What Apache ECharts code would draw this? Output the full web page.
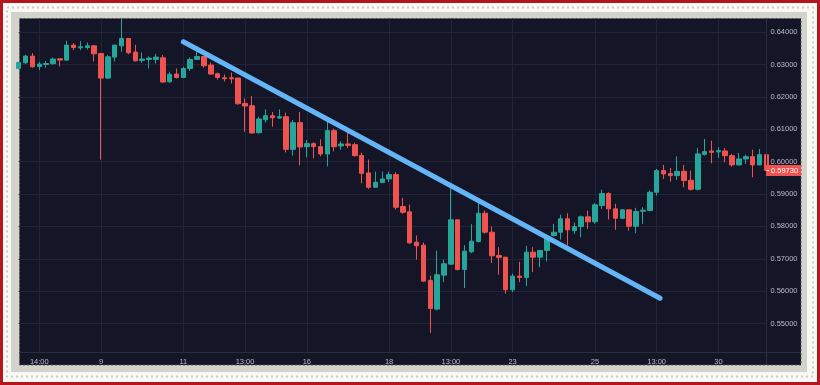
<!DOCTYPE html>
<html>
<head>
<meta charset="utf-8">
<script src="https://cdn.jsdelivr.net/npm/echarts@6/dist/echarts.min.js"></script>
<style>html,body{margin:0;padding:0;background:#fff}#c{width:820px;height:385px}</style>
</head>
<body>
<div id="c"></div>
<script>
// ---- data ----
const opens = [0.62883,0.63059,0.63265,0.62944,0.63006,0.63028,0.63182,0.63142,0.63605,0.63522,
0.63531,0.63583,0.63346,0.62586,0.63235,0.63583,0.63809,0.63389,0.63130,0.63161,
0.63161,0.63213,0.62472,0.62710,0.62605,0.62883,0.63161,0.63253,0.62988,0.62719,
0.62596,0.62596,0.62586,0.61803,0.61731,0.60898,0.61299,0.61423,0.61352,0.61392,
0.60383,0.61207,0.60466,0.60559,0.60466,0.60241,0.60960,0.60488,0.60549,0.60528,
0.60198,0.59654,0.59210,0.59355,0.59469,0.59602,0.58614,0.58451,0.57512,0.57420,
0.56330,0.55444,0.56494,0.56833,0.58204,0.56670,0.57216,0.57534,0.58407,0.57821,
0.57102,0.57049,0.56043,0.56463,0.56423,0.57204,0.57049,0.57256,0.57719,0.57821,
0.58235,0.57873,0.57997,0.58296,0.58142,0.58645,0.59015,0.58543,0.58253,0.58512,
0.58006,0.58469,0.58491,0.59056,0.59725,0.59633,0.59571,0.59704,0.59426,0.59148,
0.60228,0.60333,0.60302,0.60333,0.60188,0.59901,0.60086,0.60157,0.59901,0.60219];
const closes = [0.63068,0.63265,0.62935,0.63019,0.63037,0.63173,0.63142,0.63605,0.63531,0.63552,
0.63583,0.63336,0.62586,0.63244,0.63605,0.63809,0.63367,0.63120,0.63173,0.63204,
0.63235,0.62463,0.62704,0.62605,0.62883,0.63161,0.63253,0.62966,0.62710,0.62605,
0.62565,0.62565,0.61793,0.61722,0.60889,0.61321,0.61423,0.61361,0.61392,0.60383,
0.61207,0.60457,0.60559,0.60466,0.60241,0.60960,0.60466,0.60549,0.60506,0.60188,
0.59642,0.59210,0.59364,0.59469,0.59602,0.58593,0.58438,0.57494,0.57401,0.56309,
0.55466,0.56506,0.56846,0.58204,0.56670,0.57235,0.57543,0.58407,0.57821,0.57093,
0.57040,0.56043,0.56463,0.56423,0.57204,0.57049,0.57256,0.57667,0.57821,0.58235,
0.57895,0.57997,0.58296,0.58142,0.58667,0.59015,0.58543,0.58253,0.58512,0.58006,
0.58460,0.58500,0.59056,0.59725,0.59623,0.59571,0.59704,0.59417,0.59148,0.60241,
0.60312,0.60290,0.60343,0.60188,0.59901,0.60086,0.60157,0.59901,0.60219,0.59730];
const lows = [0.62858,0.63028,0.62914,0.62833,0.62904,0.63006,0.62944,0.63120,0.63451,0.63451,
0.63469,0.63099,0.60065,0.62556,0.63099,0.63398,0.63327,0.63099,0.63059,0.62883,
0.63037,0.62441,0.62441,0.62574,0.62596,0.62812,0.63151,0.62914,0.62688,0.62543,
0.62481,0.62420,0.61762,0.60929,0.60867,0.60867,0.61207,0.61083,0.61330,0.60290,
0.60188,0.59889,0.60136,0.60105,0.60167,0.59858,0.60321,0.60364,0.60426,0.60157,
0.59333,0.59161,0.59201,0.59340,0.59377,0.58522,0.58389,0.57451,0.56978,0.56284,
0.54704,0.55404,0.56278,0.56824,0.56639,0.56093,0.57173,0.57503,0.57772,0.56864,
0.56506,0.55920,0.55969,0.56278,0.56154,0.56586,0.56741,0.56917,0.57688,0.57596,
0.57411,0.57772,0.57667,0.57926,0.58080,0.58543,0.58213,0.57895,0.58228,0.57873,
0.57790,0.58080,0.58475,0.58954,0.59469,0.59386,0.59438,0.59210,0.59108,0.59108,
0.60188,0.59951,0.60117,0.59982,0.59849,0.59895,0.59932,0.59519,0.59895,0.59700];
const highs = [0.63090,0.63306,0.63358,0.63090,0.63111,0.63222,0.63185,0.63738,0.63667,0.63728,
0.63685,0.63599,0.63358,0.63296,0.63614,0.64417,0.63815,0.63614,0.63377,0.63253,
0.63336,0.63306,0.62781,0.62883,0.62935,0.63222,0.63407,0.63259,0.63068,0.62759,
0.62697,0.62759,0.62596,0.61957,0.62031,0.61392,0.61617,0.61537,0.61617,0.61515,
0.61290,0.61537,0.60673,0.60599,0.60691,0.61259,0.61022,0.60630,0.60898,0.60590,
0.60281,0.60065,0.59694,0.59694,0.59694,0.59673,0.58883,0.58676,0.57719,0.57503,
0.56475,0.57247,0.56978,0.59179,0.58213,0.57420,0.58068,0.58728,0.58491,0.57997,
0.57358,0.57055,0.56537,0.56907,0.57401,0.57358,0.57272,0.57688,0.58080,0.58367,
0.58407,0.58120,0.58336,0.58491,0.58716,0.59139,0.59056,0.58698,0.58537,0.58522,
0.58574,0.58593,0.59108,0.59778,0.59901,0.59809,0.60167,0.59901,0.59725,0.60426,
0.60704,0.60651,0.60444,0.60426,0.60241,0.60272,0.60219,0.60373,0.60395,0.60250];
const tickIndex = [3, 12, 24, 33, 42, 54, 63, 72, 84, 93, 102];
const tickLabels = ['14:00', '9', '11', '13:00', '16', '18', '13:00', '23', '25', '13:00', '30'];
const trendX = [24, 93.5];
const trendY = [0.63707, 0.5578];

// ---- build ----
const categories = opens.map((_, i) => String(i));
const candles = opens.map((o, i) => [o, closes[i], lows[i], highs[i]]);
const isTick = (i) => tickIndex.indexOf(i) >= 0;
const lastClose = closes[closes.length - 1];

const BG = '#141627';
const GRIDC = '#222538';
const TXT = '#b8bbc6';
const FONT = 'Liberation Sans';
const RED = '#ef5350';
const TEAL = '#26a69a';

const frame = [
  {type: 'rect', z: -20, shape: {x: 0, y: 0, width: 820, height: 385}, style: {fill: '#b5161c'}},
  {type: 'rect', z: -19, shape: {x: 3, y: 3, width: 814, height: 379}, style: {fill: '#f8f8f4'}},
  {type: 'rect', z: -18, shape: {x: 7, y: 7.5, width: 806, height: 369}, style: {fill: 'none', stroke: '#cdcdc5', lineWidth: 2, lineDash: [2, 3]}},
  {type: 'rect', z: -17, shape: {x: 11, y: 12, width: 796, height: 360}, style: {fill: '#d3d3cb'}},
  {type: 'rect', z: -16, shape: {x: 19.5, y: 18.5, width: 781.5, height: 346.5}, style: {fill: BG, stroke: '#55565c', lineWidth: 1, lineDash: [2, 2]}},
  {type: 'line', z: 5, shape: {x1: 766.5, y1: 18.5, x2: 766.5, y2: 365}, style: {stroke: '#2a2d40', lineWidth: 1}},
  {type: 'line', z: 5, shape: {x1: 19.5, y1: 352.5, x2: 801, y2: 352.5}, style: {stroke: '#2a2d40', lineWidth: 1}}
];

const chart = echarts.init(document.getElementById('c'), null, {renderer: 'canvas'});
chart.setOption({
  animation: false,
  backgroundColor: '#ffffff',
  graphic: frame,
  grid: [
    {left: 18.7, right: 53.6, top: -0.9, bottom: 29.2, containLabel: false},
    {left: 18.7, right: 53.6, top: 18.5, bottom: 32.5, containLabel: false}
  ],
  xAxis: [
    {
      type: 'category', data: categories, boundaryGap: false, gridIndex: 0,
      axisLine: {show: false}, axisTick: {show: false}, axisLabel: {show: false}, splitLine: {show: false}
    },
    {type: 'value', min: 0, max: opens.length - 1, show: false, gridIndex: 0},
    {
      type: 'category', data: categories, boundaryGap: false, gridIndex: 1, position: 'bottom',
      axisLine: {show: false}, axisTick: {show: false},
      axisLabel: {
        interval: (i) => isTick(i), margin: 5, color: TXT, fontSize: 7.5, fontFamily: FONT,
        formatter: (v) => { const k = tickIndex.indexOf(Number(v)); return k >= 0 ? tickLabels[k] : ''; }
      },
      splitLine: {show: true, interval: (i) => isTick(i), lineStyle: {color: GRIDC, width: 1}}
    }
  ],
  yAxis: [
    {
      type: 'value', position: 'right', min: 0.54, max: 0.65, interval: 0.01, gridIndex: 0,
      axisLine: {show: false}, axisTick: {show: false},
      axisLabel: {margin: 4, color: TXT, fontSize: 7.5, fontFamily: FONT, showMinLabel: false, showMaxLabel: false,
        formatter: (v) => v.toFixed(5)},
      splitLine: {show: true, showMinLine: false, showMaxLine: false, lineStyle: {color: GRIDC, width: 1}}
    },
    {type: 'value', min: 0, max: 1, show: false, gridIndex: 1}
  ],
  series: [
    {
      type: 'candlestick', data: candles, barWidth: 5, xAxisIndex: 0, yAxisIndex: 0,
      itemStyle: {color: TEAL, color0: RED, borderColor: TEAL, borderColor0: RED, borderWidth: 1}
    },
    {
      type: 'line', xAxisIndex: 1, yAxisIndex: 0, data: trendX.map((x, i) => [x, trendY[i]]),
      symbol: 'none', z: 4,
      lineStyle: {color: '#64b5f6', width: 5, cap: 'round'}
    }
  ]
});

// last-price tag on the right axis, placed through the y scale
const py = chart.convertToPixel({yAxisIndex: 0}, lastClose);
chart.setOption({
  graphic: frame.concat([
    {type: 'rect', z: 10, shape: {x: 766, y: py - 5.5, width: 35, height: 11}, style: {fill: '#f05252'}},
    {type: 'line', z: 11, shape: {x1: 766.5, y1: py, x2: 769, y2: py}, style: {stroke: '#ffffff', lineWidth: 1}},
    {type: 'text', z: 11, x: 771, y: py, style: {text: lastClose.toFixed(5), fill: '#ffffff', font: '7.5px "Liberation Sans"', textVerticalAlign: 'middle', verticalAlign: 'middle'}}
  ])
});
</script>
</body>
</html>
